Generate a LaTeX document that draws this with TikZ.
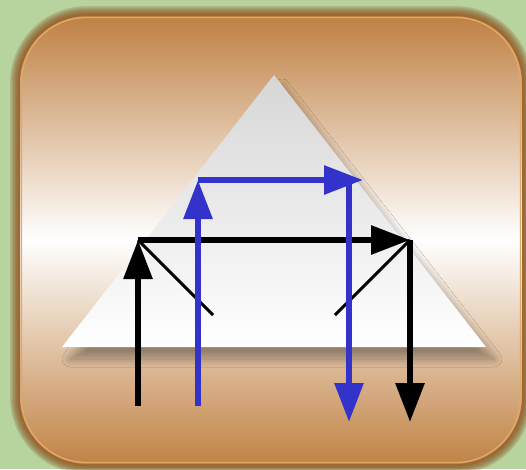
\documentclass[tikz,border=0pt]{standalone}
\usetikzlibrary{arrows.meta,shadows.blur}
\definecolor{bggreen}{HTML}{B7D49E}
\definecolor{tanA}{HTML}{BF8042}
\definecolor{tanB}{HTML}{C08244}
\definecolor{glowbrown}{HTML}{8A5424}
\definecolor{edgebrown}{HTML}{A06830}
\definecolor{rimlight}{HTML}{DDAA6C}
\definecolor{blueA}{HTML}{3333CC}
\begin{document}
\begin{tikzpicture}[x=1pt,y=-1pt,
  glowline/.style={draw=glowbrown, opacity=0.22, rounded corners=68pt},
  blackarrow/.style={draw=black, line width=6pt, -{Triangle[length=39pt,width=28pt]}},
  bluearrow/.style={draw=blueA, line width=6pt, -{Triangle[length=39pt,width=28pt]}},
  thinline/.style={draw=black, line width=3pt}]
\useasboundingbox (0,0) rectangle (526,469);
\fill[bggreen] (0,0) rectangle (526,469);
% glow
\foreach \w in {18,15,12,9,6,3}{
  \draw[glowline, line width=\w pt] (19,15) rectangle (523,465);
}
% panel
\path[top color=tanA, bottom color=tanB, middle color=white, rounded corners=68pt]
  (19,15) rectangle (523,465);
\draw[edgebrown, line width=2pt, rounded corners=68pt] (19,15) rectangle (523,465);
\draw[rimlight, line width=1.4pt, rounded corners=65pt] (21.5,17.5) rectangle (520.5,462.5);
% triangle
\coordinate (apex) at (274,75);
\coordinate (bl) at (62,347);
\coordinate (br) at (486,347);
\path[top color=black!16, bottom color=white,
  blur shadow={shadow xshift=8pt, shadow yshift=-12pt, shadow blur radius=8pt, shadow blur steps=10, shadow opacity=34}]
  (apex) -- (br) -- (bl) -- cycle;
% coordinates
\coordinate (k0) at (138,406);
\coordinate (k1) at (138,240);
\coordinate (k2) at (410,240);
\coordinate (k3) at (410,422);
\coordinate (d1) at (213,315);
\coordinate (d2) at (335,315);
\coordinate (b0) at (198,406);
\coordinate (b1) at (198,180);
\coordinate (b2) at (363,180);
\coordinate (b3) at (349,180);
\coordinate (b4) at (349,422);
% black
\draw[thinline] (k1) -- (d1);
\draw[thinline] (k2) -- (d2);
\draw[blackarrow] (k0) -- (k1);
\draw[blackarrow] (k1) -- (k2);
\draw[blackarrow] (k2) -- (k3);
% blue
\draw[bluearrow] (b0) -- (b1);
\draw[bluearrow] (b1) -- (b2);
\draw[bluearrow] (b3) -- (b4);
\end{tikzpicture}
\end{document}
